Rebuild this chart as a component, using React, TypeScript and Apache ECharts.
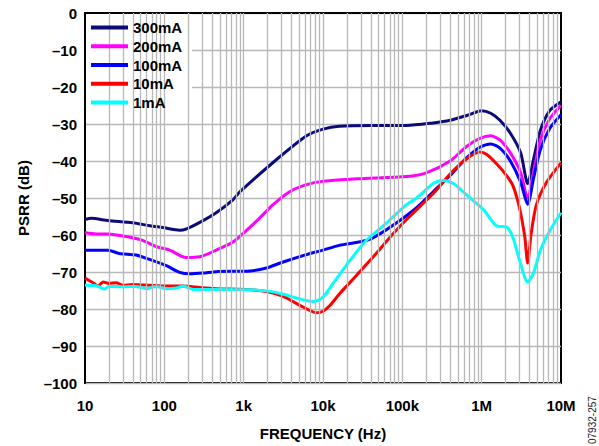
import React, { useEffect, useRef } from "react";
import * as echarts from "echarts";

const FONT = "'Liberation Sans', Arial, Helvetica, sans-serif";

const seriesNames = ["300mA", "200mA", "100mA", "10mA", "1mA"];
const seriesColors = ["#0a0a7a", "#ff00ff", "#0000ff", "#ff0000", "#00ffff"];
const xTickLabels = ["10", "100", "1k", "10k", "100k", "1M", "10M"];

const f300 = [10, 12, 19.5, 40, 66, 96, 156, 187, 280, 450, 730, 900, 2350, 6200, 10000, 16000, 42000, 113000, 245000, 400000, 650000, 1000000, 1300000, 1700000, 2300000, 3100000, 3800000, 4500000, 5500000, 7200000, 9700000, 10000000];
const v300 = [-55.8, -55.5, -56.1, -56.7, -57.5, -58, -58.7, -58.4, -56.6, -54, -50.5, -48.3, -40.4, -33.2, -31.4, -30.6, -30.4, -30.4, -29.7, -29, -27.7, -26.4, -27.1, -29, -32.5, -37.8, -46.1, -39.6, -31.7, -26.4, -24.2, -24.1];

const f200 = [10, 13.8, 19.5, 33, 54, 78, 117, 187, 280, 450, 730, 1460, 2350, 3800, 6200, 10000, 27000, 113000, 200000, 400000, 650000, 950000, 1300000, 1700000, 2300000, 3100000, 3800000, 4500000, 5500000, 7200000, 10000000];
const v200 = [-59.3, -59.7, -59.7, -60.4, -61.5, -63.1, -64.1, -66.1, -65.9, -64.1, -61.9, -56.2, -51.8, -48.3, -46.4, -45.5, -44.8, -44.2, -43.2, -40, -36, -33.9, -33.2, -34.3, -37.8, -43.1, -50.1, -43.1, -34.3, -28.6, -25];

const f100 = [10, 19.5, 27, 44, 65, 106, 156, 208, 307, 450, 1200, 1940, 3150, 6200, 10000, 16000, 35000, 52000, 94000, 150000, 245000, 400000, 650000, 950000, 1300000, 1700000, 2300000, 3100000, 3800000, 4500000, 5500000, 7200000, 10000000];
const v100 = [-64.1, -64.1, -65, -65.4, -66.6, -68.3, -70.1, -70.5, -70.3, -69.9, -69.7, -68.9, -67.3, -65.3, -64.1, -62.8, -61.5, -59.7, -56, -52.7, -48.3, -43.9, -39.1, -36.3, -35.4, -36.5, -40, -45.7, -51.7, -44.8, -36.9, -31.2, -27.5];

const f10 = [10, 12.6, 14.6, 16.9, 20, 24.8, 30, 40, 66, 105, 172, 280, 450, 1200, 1940, 3150, 5100, 8300, 10000, 12300, 16000, 27000, 43000, 70000, 113000, 245000, 400000, 650000, 950000, 1150000, 1560000, 2050000, 2470000, 3000000, 3500000, 3800000, 4200000, 4900000, 6600000, 10000000];
const v10 = [-71.6, -72.9, -73.8, -72.7, -73.1, -72.9, -73.6, -73.4, -73.6, -73.8, -73.8, -74.2, -74.5, -74.8, -75.3, -76.6, -79, -81, -80.6, -79, -76, -70.7, -65.9, -60.6, -55.8, -48.8, -43.5, -39.4, -37.6, -38.2, -40.9, -43.9, -46.6, -52.7, -60.6, -67.6, -59.7, -51.8, -45.7, -40.5];

const f1 = [10, 13.9, 17.7, 20, 30, 44, 59, 79, 106, 142, 172, 230, 450, 1200, 1940, 3150, 5100, 7600, 10000, 13600, 22000, 35000, 57000, 113000, 150000, 245000, 330000, 440000, 650000, 1060000, 1560000, 2050000, 2470000, 3000000, 3800000, 4500000, 5500000, 7200000, 10000000];
const v1 = [-73.6, -73.7, -74.6, -73.9, -74, -73.9, -74.5, -73.9, -74.5, -74.3, -73.8, -74.7, -74.7, -74.8, -75.1, -76, -77.3, -78, -76.8, -72.9, -66.8, -61.5, -57.6, -51.8, -50.1, -46.1, -45.3, -46.1, -49.2, -53.2, -57.6, -57.8, -60.6, -66.8, -72.7, -70.3, -64.1, -58.9, -54];

const freqs = [f300, f200, f100, f10, f1];
const vals = [v300, v200, v100, v10, v1];

// vertical log-grid lines at 1..9 x each decade (excluding frame edges)
const gridFreqs: number[] = [];
for (let d = 10; d < 1e7; d *= 10) {
  for (let m = 1; m <= 9; m++) {
    const v = d * m;
    if (v > 10 && v < 1e7) gridFreqs.push(v);
  }
}

const GRID_COLOR = "#b8b8b8";

export default function App() {
  const ref = useRef<HTMLDivElement>(null);
  useEffect(() => {
    if (!ref.current) return;
    const chart = echarts.init(ref.current, undefined, { renderer: "svg" });
    const lineSeries = seriesNames.map((name, i) => ({
      name,
      type: "line",
      data: freqs[i].map((f, j) => [f, vals[i][j]]),
      symbol: "none",
      smooth: 0.25,
      z: 3,
      lineStyle: { color: seriesColors[i], width: 3 },
      itemStyle: { color: seriesColors[i] },
    }));
    const option: any = {
      animation: false,
      grid: {
        left: 85,
        right: 38,
        top: 13,
        bottom: 53,
        show: true,
        borderColor: "#000",
        borderWidth: 2,
      },
      legend: {
        data: seriesNames.map((n) => ({ name: n, icon: "rect" })),
        orient: "vertical",
        left: 91,
        top: 20,
        padding: 0,
        itemWidth: 37,
        itemHeight: 4,
        itemGap: 3.75,
        z: 6,
        textStyle: { fontFamily: FONT, fontSize: 15, fontWeight: "bold", color: "#000", lineHeight: 15 },
      },
      graphic: [
        {
          type: "rect",
          shape: { x: 86, y: 14, width: 106, height: 104 },
          style: { fill: "#fff" },
          z: 5,
          silent: true,
        },
        {
          type: "text",
          x: 592,
          y: 444,
          rotation: Math.PI / 2,
          style: {
            text: "07932-257",
            fontSize: 10,
            fontFamily: FONT,
            fill: "#222",
            align: "left",
            verticalAlign: "middle",
          },
          z: 6,
        },
      ],
      xAxis: {
        type: "log",
        logBase: 10,
        min: 10,
        max: 1e7,
        splitNumber: 6,
        axisLine: { show: true, lineStyle: { color: "#000", width: 2 } },
        axisTick: { show: false },
        splitLine: { show: false },
        axisLabel: {
          margin: 15,
          fontFamily: FONT,
          fontSize: 15,
          fontWeight: "bold",
          color: "#000",
          formatter: (v: number) => xTickLabels[Math.round(Math.log10(v)) - 1] ?? "",
        },
        name: "FREQUENCY (Hz)",
        nameLocation: "middle",
        nameGap: 43,
        nameTextStyle: { fontFamily: FONT, fontSize: 15, fontWeight: "bold", color: "#000" },
      },
      yAxis: {
        type: "value",
        min: -100,
        max: 0,
        interval: 10,
        axisLine: { show: true, lineStyle: { color: "#000", width: 2 } },
        axisTick: { show: false },
        splitLine: { show: true, lineStyle: { color: GRID_COLOR, width: 1.3 } },
        axisLabel: {
          margin: 8,
          fontFamily: FONT,
          fontSize: 15,
          fontWeight: "bold",
          color: "#000",
          formatter: (v: number) => (v < 0 ? "\u2013" + Math.abs(v) : String(v)),
        },
        name: "PSRR (dB)",
        nameLocation: "middle",
        nameGap: 54,
        nameTextStyle: { fontFamily: FONT, fontSize: 15, fontWeight: "bold", color: "#000" },
      },
      series: [
        {
          name: "grid",
          type: "line",
          data: [[10, -200]],
          symbol: "none",
          silent: true,
          z: 1,
          lineStyle: { opacity: 0 },
          markLine: {
            silent: true,
            symbol: ["none", "none"],
            label: { show: false },
            animation: false,
            lineStyle: { color: GRID_COLOR, width: 1.3, type: "solid" },
            emphasis: { disabled: true },
            data: gridFreqs.map((v) => ({ xAxis: v })),
          },
        },
        ...lineSeries,
      ],
    };
    chart.setOption(option);
    return () => chart.dispose();
  }, []);
  return <div ref={ref} style={{ width: 599, height: 446, position: "absolute", left: 0, top: 0 }} />;
}
